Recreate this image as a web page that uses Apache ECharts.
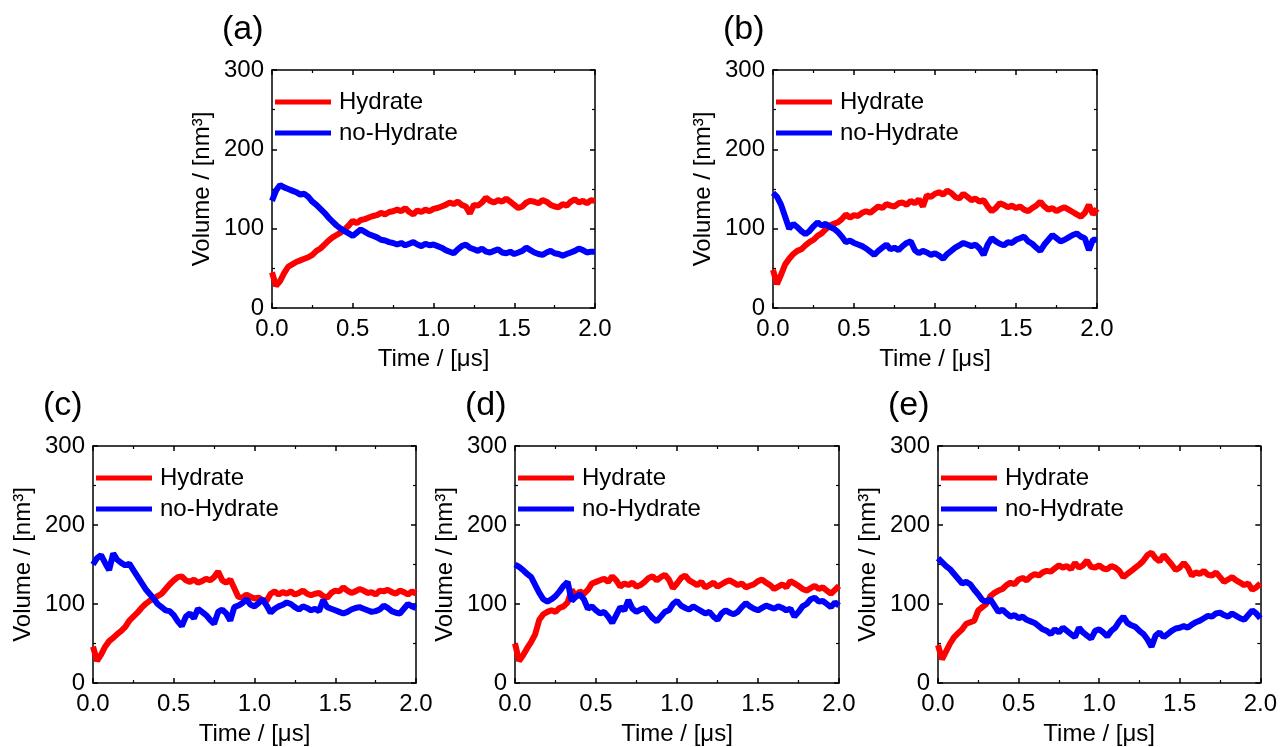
<!DOCTYPE html>
<html>
<head>
<meta charset="utf-8">
<title>Volume vs Time</title>
<script src="https://cdn.jsdelivr.net/npm/echarts@6/dist/echarts.min.js"></script>
<style>
  html, body { margin: 0; padding: 0; background: #ffffff; }
  #chart { width: 1280px; height: 747px; }
</style>
</head>
<body>
<div id="chart"></div>
<script>
// Sampling step of every trace, in microseconds (0 .. 2.0)
const TIME_STEP = 0.025;

const X_TICKS = [0, 0.5, 1.0, 1.5, 2.0];
const Y_TICKS = [0, 100, 200, 300];
const SERIES_NAMES = ['Hydrate', 'no-Hydrate'];
const PANEL_LABELS = ['(a)', '(b)', '(c)', '(d)', '(e)'];

// (a)
const HYDRATE_A = [45,28,34,44,52,55,58,60,62,64,67,72,75,80,85,89,92,95,99,104,110,107,111,112,114,116,117,120,118,121,122,124,122,126,121,118,123,121,124,122,125,126,128,130,133,131,134,130,128,119,130,129,133,139,135,133,136,134,138,134,130,126,128,133,135,134,132,136,134,130,128,127,131,129,134,137,133,135,132,136,135];
const NOHYDRATE_A = [135,148,155,152,150,148,146,143,144,140,134,130,125,120,114,109,104,100,97,94,91,95,99,96,93,91,89,86,85,83,82,80,82,79,81,83,80,78,81,79,80,78,76,73,71,69,74,78,80,76,74,72,75,71,70,72,74,70,69,71,68,70,72,76,73,70,68,67,70,72,69,68,66,68,70,72,75,73,70,71,71];

// (b)
const HYDRATE_B = [48,30,42,55,62,68,72,74,79,83,86,91,94,99,104,106,108,112,118,114,117,116,120,122,120,124,128,126,131,129,128,132,133,130,135,132,137,128,142,140,144,146,143,148,145,140,138,144,140,136,138,134,136,128,122,126,132,130,127,129,126,128,124,122,126,129,134,128,124,126,122,125,127,124,121,118,115,120,130,118,125];
const NOHYDRATE_B = [145,140,130,115,100,106,102,97,93,97,103,108,104,106,102,100,96,90,83,85,82,80,78,75,71,67,72,76,80,74,76,73,78,82,84,73,69,72,70,67,69,66,62,68,72,76,79,82,80,78,80,75,67,80,88,84,81,79,83,82,86,88,90,84,81,76,72,80,86,92,88,84,86,89,92,94,90,88,73,86,86];

// (c)
const HYDRATE_C = [46,28,36,46,53,57,62,66,71,79,84,89,95,100,104,107,110,113,119,125,130,134,135,130,128,131,127,129,132,130,134,141,130,127,131,120,109,108,112,109,107,108,105,104,113,116,112,115,113,116,112,114,117,113,111,113,114,110,108,114,117,116,121,117,114,116,119,117,114,115,112,117,116,118,115,113,117,115,112,116,113];
const NOHYDRATE_C = [150,158,162,152,143,164,156,152,149,151,143,135,127,119,113,107,100,96,92,91,86,78,72,84,88,82,94,90,86,80,75,90,93,88,79,96,98,101,106,99,97,101,106,98,89,94,97,99,102,100,96,93,97,95,92,94,91,105,96,94,92,90,88,90,93,95,96,94,92,90,91,93,98,95,91,89,88,94,100,97,95];

// (d)
const HYDRATE_D = [50,28,35,44,52,62,80,87,90,92,90,95,97,102,118,110,116,113,118,126,128,130,132,128,135,130,122,126,124,127,122,124,128,133,135,130,134,137,131,120,126,133,136,130,127,124,128,121,124,127,122,125,128,130,127,124,126,121,123,125,129,131,127,124,119,122,125,121,129,126,123,119,117,120,123,119,121,117,113,118,123];
const NOHYDRATE_D = [150,147,143,138,134,124,114,106,103,106,110,116,123,128,104,109,112,106,94,97,92,88,90,84,76,86,96,92,105,94,90,93,95,88,82,78,84,90,92,100,104,98,95,93,97,94,91,88,90,84,80,88,92,89,87,90,96,101,97,94,92,95,98,96,94,97,95,92,94,84,90,97,100,106,108,103,104,100,96,102,98];

// (e)
const HYDRATE_E = [48,30,40,50,58,63,68,75,77,79,92,96,100,110,114,117,119,124,127,125,131,133,130,135,138,136,140,142,141,145,149,146,148,144,152,146,149,155,147,146,149,145,144,148,146,142,134,138,142,146,150,155,162,165,158,154,162,156,150,143,146,152,146,136,140,138,142,137,136,140,134,128,131,134,130,127,124,126,118,121,126];
const NOHYDRATE_E = [158,153,148,144,138,132,126,128,125,118,112,105,103,106,98,90,93,88,84,86,82,84,80,78,76,72,68,66,62,68,64,70,66,62,58,70,64,60,56,66,68,64,59,66,70,78,84,76,73,71,66,62,55,46,60,64,58,62,66,69,70,72,70,74,77,79,82,85,84,88,89,86,84,88,85,82,80,86,92,88,82];

const HYDRATE = [HYDRATE_A, HYDRATE_B, HYDRATE_C, HYDRATE_D, HYDRATE_E];
const NOHYDRATE = [NOHYDRATE_A, NOHYDRATE_B, NOHYDRATE_C, NOHYDRATE_D, NOHYDRATE_E];

// Plot-box placement of the five panels (pixels)
const GRID_BOXES = [
  { left: 272, top: 70,  width: 323, height: 238 },
  { left: 773, top: 70,  width: 324, height: 238 },
  { left: 93,  top: 446, width: 323, height: 237 },
  { left: 515, top: 446, width: 324, height: 238 },
  { left: 938, top: 446, width: 324, height: 237 }
];

const FONT = '"Liberation Sans", Arial, Helvetica, sans-serif';
const RED = '#ff0000';
const BLUE = '#0000ff';
const INK = '#000000';

function toPairs(values) {
  return values.map((v, i) => [+(i * TIME_STEP).toFixed(3), v]);
}

const axisLineStyle = { onZero: false, lineStyle: { color: INK, width: 1.5 } };
const tickStyle = { show: true, inside: true, length: 5, lineStyle: { color: INK, width: 1.5 } };
const minorStyle = { show: true, splitNumber: 2, length: 3, lineStyle: { color: INK, width: 1.2 } };

const grids = [], xAxes = [], yAxes = [], series = [], legends = [], graphics = [];

GRID_BOXES.forEach((box, i) => {
  grids.push(Object.assign({ containLabel: false }, box));

  // bottom axis with labels
  xAxes.push({
    gridIndex: i, type: 'value', position: 'bottom',
    min: X_TICKS[0], max: X_TICKS[X_TICKS.length - 1], interval: 0.5,
    axisLine: axisLineStyle, axisTick: tickStyle, minorTick: minorStyle,
    splitLine: { show: false },
    axisLabel: {
      color: INK, fontSize: 24, fontFamily: FONT, margin: 9,
      showMinLabel: true, showMaxLabel: true,
      formatter: v => v.toFixed(1)
    },
    name: 'Time / [μs]', nameLocation: 'middle', nameGap: 39,
    nameTextStyle: { color: INK, fontSize: 24, fontFamily: FONT }
  });
  // mirrored top axis
  xAxes.push({
    gridIndex: i, type: 'value', position: 'top',
    min: X_TICKS[0], max: X_TICKS[X_TICKS.length - 1], interval: 0.5,
    axisLine: axisLineStyle, axisTick: tickStyle, minorTick: minorStyle,
    splitLine: { show: false }, axisLabel: { show: false }
  });

  // left axis with labels
  yAxes.push({
    gridIndex: i, type: 'value', position: 'left',
    min: Y_TICKS[0], max: Y_TICKS[Y_TICKS.length - 1], interval: 100,
    axisLine: axisLineStyle, axisTick: tickStyle, minorTick: minorStyle,
    splitLine: { show: false },
    axisLabel: {
      color: INK, fontSize: 24, fontFamily: FONT, margin: 8,
      showMinLabel: true, showMaxLabel: true
    },
    name: 'Volume / [nm³]', nameLocation: 'middle', nameGap: 58,
    nameTextStyle: { color: INK, fontSize: 24, fontFamily: FONT }
  });
  // mirrored right axis
  yAxes.push({
    gridIndex: i, type: 'value', position: 'right',
    min: Y_TICKS[0], max: Y_TICKS[Y_TICKS.length - 1], interval: 100,
    axisLine: axisLineStyle, axisTick: tickStyle, minorTick: minorStyle,
    splitLine: { show: false }, axisLabel: { show: false }
  });

  series.push({
    name: SERIES_NAMES[0], type: 'line',
    xAxisIndex: 2 * i, yAxisIndex: 2 * i,
    data: toPairs(HYDRATE[i]),
    showSymbol: false, symbol: 'none', clip: true,
    color: RED, lineStyle: { color: RED, width: 6 }
  });
  series.push({
    name: SERIES_NAMES[1], type: 'line',
    xAxisIndex: 2 * i, yAxisIndex: 2 * i,
    data: toPairs(NOHYDRATE[i]),
    showSymbol: false, symbol: 'none', clip: true,
    color: BLUE, lineStyle: { color: BLUE, width: 6 }
  });

  legends.push({
    left: box.left + 3, top: box.top + 20,
    padding: 0,
    orient: 'vertical', icon: 'rect',
    itemWidth: 56, itemHeight: 5, itemGap: 7,
    selectedMode: false,
    data: SERIES_NAMES,
    textStyle: { color: INK, fontSize: 24, fontFamily: FONT, padding: [0, 0, 0, 3] }
  });

  graphics.push({
    type: 'text',
    left: box.left - 50, top: box.top - 57,
    style: { text: PANEL_LABELS[i], fill: INK, font: '34px ' + FONT }
  });
});

const chart = echarts.init(document.getElementById('chart'), null, { renderer: 'canvas' });
chart.setOption({
  animation: false,
  backgroundColor: '#ffffff',
  grid: grids,
  xAxis: xAxes,
  yAxis: yAxes,
  legend: legends,
  series: series,
  graphic: graphics
});
</script>
</body>
</html>
